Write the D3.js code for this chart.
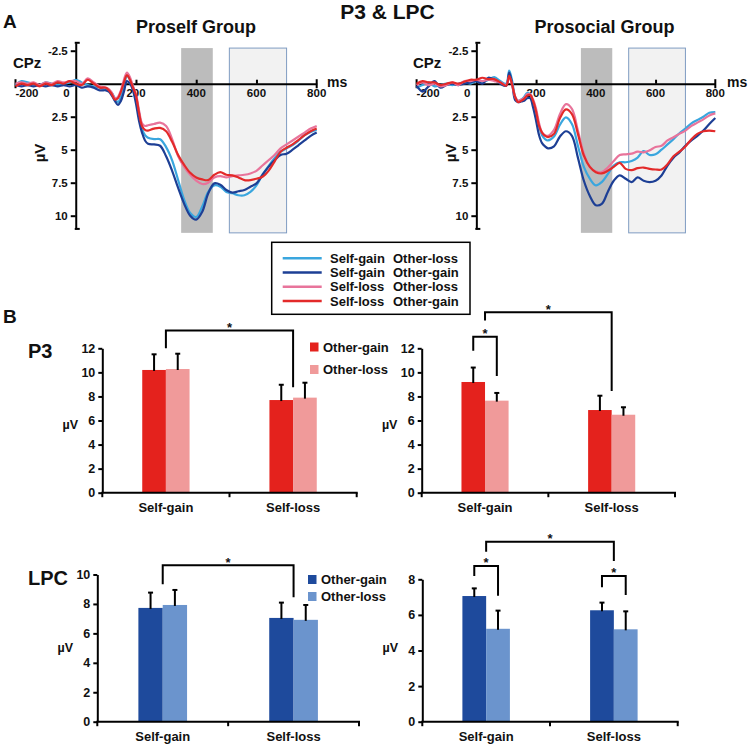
<!DOCTYPE html>
<html>
<head>
<meta charset="utf-8">
<script src="https://cdn.jsdelivr.net/npm/d3@7"></script>
<style>
  html, body { margin: 0; padding: 0; background: #fff; }
  svg text { font-family: "Liberation Sans", Arial, Helvetica, sans-serif; font-weight: bold; fill: #111; }
</style>
</head>
<body>
<svg id="chart" width="750" height="749"></svg>
<script>
// ================= DATA =================
// ERP waveforms (CPz), time in ms, amplitude in µV (axis inverted: positive down)
const erpTimes = [-200,-180,-160,-140,-120,-100,-80,-60,-40,-20,0,20,40,60,80,
  100,110,120,130,140,150,160,170,180,190,200,210,220,230,240,
  260,280,300,320,340,360,380,400,420,440,460,480,500,520,540,560,580,600,620,640,660,680,700,720,740,760,780,800];

const proselfSelfGainOtherLoss = [0.1,-0.2,-0.1,0,0.1,-0.1,0,0.1,0,-0.1,-0.3,-0.1,0.1,0.2,0.3,
  0.4,0.5,0.7,1.1,1.4,1.0,0.2,-0.6,-0.3,0.2,1.0,2.2,3.4,3.9,4.1,
  4.2,4.2,4.8,5.8,7.3,8.8,9.8,10.1,9.3,8.2,7.7,7.8,8.2,8.3,8.45,8.45,8.2,7.7,6.9,6.25,5.65,5.15,4.9,4.65,4.3,3.9,3.65,3.5];
const proselfSelfGainOtherGain = [0.1,0.2,0.1,0.2,0.1,0.2,0.1,0.2,0.1,0.2,0.1,0.3,0.2,0.3,0.5,
  0.5,0.6,0.9,1.3,1.6,1.3,0.6,-0.2,0.0,0.5,1.5,2.8,3.7,4.3,4.55,
  4.6,4.7,5.5,6.6,7.9,9.1,10.0,10.3,9.7,8.3,7.55,7.65,8.05,8.25,8.15,8.05,7.8,7.55,6.9,6.3,5.8,5.4,5.3,5.0,4.65,4.3,3.95,3.7];
const proselfSelfLossOtherLoss = [0.0,-0.1,0.0,-0.1,0.1,-0.1,0.0,-0.2,-0.1,-0.2,-0.2,0.0,-0.4,-0.1,0.2,
  0.3,0.4,0.7,1.1,1.0,0.5,-0.3,-0.85,-0.5,0.2,0.8,2.0,3.0,3.2,3.15,
  3.05,2.95,3.2,4.2,5.5,6.3,6.9,7.35,7.6,7.5,7.1,7.0,7.1,7.0,6.95,6.9,6.8,6.6,6.2,5.8,5.4,4.9,4.6,4.3,4.0,3.7,3.4,3.2];
const proselfSelfLossOtherGain = [0.2,0.0,0.1,0.0,0.2,0.0,0.1,-0.1,0.0,-0.2,0.0,0.1,-0.3,0.0,0.3,
  0.3,0.5,0.8,1.2,1.1,0.6,-0.1,-0.65,-0.3,0.3,0.9,2.2,3.2,3.5,3.55,
  3.4,3.35,3.6,4.4,5.4,6.15,6.75,7.1,7.25,7.3,6.9,6.7,6.9,6.95,7.1,7.3,7.3,7.2,7.05,6.6,5.9,5.15,4.85,4.6,4.25,3.9,3.6,3.4];

const prosocialSelfGainOtherLoss = [0.3,0.1,-0.1,0.2,0.1,0.0,0.1,0.0,-0.1,0.0,-0.2,-0.1,-0.3,-0.5,-0.2,
  0.0,-1.0,-0.2,1.0,1.3,1.2,1.0,0.7,0.8,1.4,2.2,3.2,3.9,4.2,4.3,
  4.0,3.1,2.55,3.05,4.7,6.3,7.2,7.7,7.45,6.85,6.2,5.95,5.95,5.85,5.6,5.1,5.4,5.35,5.0,4.6,4.2,3.75,3.4,3.0,2.75,2.5,2.2,2.15];
const prosocialSelfGainOtherGain = [0.15,0.6,0.2,-0.2,0.3,0.1,0.0,0.1,0.0,-0.1,-0.2,0.0,-0.45,-0.3,0.0,
  0.15,-0.85,0.0,1.25,1.4,1.35,1.3,1.1,1.1,1.8,2.8,3.9,4.5,4.75,4.9,
  4.75,4.0,3.6,3.95,5.6,7.35,8.5,9.2,9.1,8.2,7.35,6.95,7.2,7.45,7.1,7.35,7.45,7.35,6.95,6.2,5.6,5.2,4.7,4.3,3.95,3.55,3.05,2.6];
const prosocialSelfLossOtherLoss = [0.1,-0.1,0.1,0.0,0.2,0.1,-0.1,0.1,-0.2,-0.2,-0.3,-0.2,-0.3,-0.2,-0.1,
  0.1,-0.5,0.1,1.0,1.3,1.2,1.1,0.8,0.8,1.2,1.9,3.0,3.7,3.9,3.95,
  3.5,2.3,1.55,1.9,3.55,5.3,6.3,6.65,6.7,6.35,5.85,5.4,5.35,5.3,5.15,5.2,5.05,4.8,4.7,4.3,4.05,3.8,3.55,3.2,2.95,2.7,2.4,2.25];
const prosocialSelfLossOtherGain = [0.0,-0.2,-0.1,-0.1,0.1,0.0,-0.1,0.0,-0.15,-0.3,-0.3,-0.45,-0.35,-0.35,-0.1,
  0.15,-0.6,0.1,1.0,1.4,1.3,1.15,0.9,0.85,1.3,2.1,3.2,3.7,3.95,4.05,
  3.8,2.6,1.95,2.3,3.8,5.45,6.3,6.7,6.8,6.6,6.3,6.0,6.45,6.55,6.4,6.35,6.45,6.5,6.5,6.1,5.5,5.15,4.75,4.2,3.8,3.6,3.55,3.6];

const erpLegendSelf  = ["Self-gain", "Self-gain", "Self-loss", "Self-loss"];
const erpLegendOther = ["Other-loss", "Other-gain", "Other-loss", "Other-gain"];
const erpYTicks = [-2.5, 2.5, 5, 7.5, 10];
const erpYExtent = [-3.1, 11];
const erpXInnerTicks = [200, 400, 600];
const erpXLabels = [-200, 0, 200, 400, 600, 800];
const p3Window = [350, 455];
const lpcWindow = [510, 700];
const windowSpan = [-2.7, 11.3];

// Bar charts (mean µV and SE)
const barGroups = ["Self-gain", "Self-loss"];
const barSeries = ["Other-gain", "Other-loss"];

const p3ProselfOtherGain = [10.2, 7.7];
const p3ProselfOtherLoss = [10.28, 7.9];
const p3ProselfOtherGainErr = [1.3, 1.27];
const p3ProselfOtherLossErr = [1.27, 1.24];

const p3ProsocialOtherGain = [9.2, 6.87];
const p3ProsocialOtherLoss = [7.65, 6.48];
const p3ProsocialOtherGainErr = [1.2, 1.19];
const p3ProsocialOtherLossErr = [0.64, 0.62];

const lpcProselfOtherGain = [7.73, 7.05];
const lpcProselfOtherLoss = [7.93, 6.92];
const lpcProselfOtherGainErr = [1.04, 1.04];
const lpcProselfOtherLossErr = [1.02, 1.01];

const lpcProsocialOtherGain = [7.06, 6.26];
const lpcProsocialOtherLoss = [5.22, 5.19];
const lpcProsocialOtherGainErr = [0.43, 0.43];
const lpcProsocialOtherLossErr = [1.02, 1.01];

// significance brackets: from/to = [groupIndex, seriesIndex (-1 = between bars)], heights in µV
const p3ProselfBrackets = [{from: [0, -1], to: [1, -1], top: 13.47, legs: [12.0, 8.76]}];
const p3ProsocialBrackets = [
  {from: [0, 0], to: [0, 1], top: 12.97, legs: [11.8, 9.7]},
  {from: [0, -1], to: [1, -1], top: 15.0, legs: [14.3, 8.45]}
];
const lpcProselfBrackets = [{from: [0, -1], to: [1, -1], top: 10.63, legs: [9.33, 8.45]}];
const lpcProsocialBrackets = [
  {from: [0, 0], to: [0, 1], top: 8.75, legs: [8.19, 7.08]},
  {from: [1, 0], to: [1, 1], top: 8.19, legs: [7.55, 7.12]},
  {from: [0, -1], to: [1, -1], top: 10.11, legs: [9.55, 9.03]}
];

// ================= STYLE =================
const FONT = '"Liberation Sans", Arial, Helvetica, sans-serif';
const erpColors = ["#3aa6de", "#1d3f95", "#e8749b", "#e32a2a"];
const p3Colors = ["#e4221d", "#f09a9a"];
const lpcColors = ["#1e4a9c", "#6b94cd"];

const svg = d3.select("#chart");

function txt(g, x, y, s, size, anchor) {
  return g.append("text").attr("x", x).attr("y", y).attr("font-size", size)
    .attr("text-anchor", anchor || "start").text(s);
}
function styleAxis(a, fs) {
  a.attr("font-family", FONT).attr("font-weight", "bold");
  a.select(".domain").attr("stroke", "#000").attr("stroke-width", 2);
  a.selectAll(".tick line").attr("stroke", "#000").attr("stroke-width", 2);
  a.selectAll(".tick text").attr("font-size", fs).attr("fill", "#111");
}

// ================= ERP PANELS =================
function drawERP(p) {
  const x = d3.scaleLinear().domain([-200, 800]).range([p.left, p.right]);
  const y = d3.scaleLinear().domain(erpYExtent).range([42.8, 228.9]);
  const g = svg.append("g");

  g.append("rect").attr("x", x(p3Window[0])).attr("y", y(windowSpan[0]))
    .attr("width", x(p3Window[1]) - x(p3Window[0])).attr("height", y(windowSpan[1]) - y(windowSpan[0]))
    .attr("fill", "#bcbcbc");
  g.append("rect").attr("x", x(lpcWindow[0])).attr("y", y(windowSpan[0]))
    .attr("width", x(lpcWindow[1]) - x(lpcWindow[0])).attr("height", y(windowSpan[1]) - y(windowSpan[0]))
    .attr("fill", "#f2f2f2").attr("stroke", "#7f9cc2").attr("stroke-width", 1);

  // x axis
  const xa = g.append("g").attr("transform", `translate(0,${y(0)})`)
    .call(d3.axisTop(x).tickValues(erpXInnerTicks).tickSize(4).tickSizeOuter(0).tickFormat(""));
  styleAxis(xa, 11);
  [-200, 800].forEach(t => g.append("line").attr("x1", x(t)).attr("x2", x(t))
    .attr("y1", y(0) - 4.5).attr("y2", y(0) + 4.5).attr("stroke", "#000").attr("stroke-width", 2));
  erpXLabels.forEach(t => {
    let ax = x(t), anchor = "middle";
    if (t === -200) { anchor = "start"; }
    if (t === 0) { ax = x(0) - 6; anchor = "end"; }
    txt(g, ax, y(0) + 13.5, String(t), 11.5, anchor);
  });
  txt(g, p.msX, y(0) + 3, "ms", 14, "start");

  // y axis
  const ya = g.append("g").attr("transform", `translate(${x(0)},0)`)
    .call(d3.axisLeft(y).tickValues(erpYTicks).tickSize(5).tickSizeOuter(0).tickPadding(3).tickFormat(d => String(d)));
  styleAxis(ya, 11.5);
  erpYExtent.forEach(v => g.append("line").attr("x1", x(0) - 1).attr("x2", x(0) + 4)
    .attr("y1", y(v)).attr("y2", y(v)).attr("stroke", "#000").attr("stroke-width", 2));

  // curves
  const line = d3.line().x((d, i) => x(erpTimes[i])).y(d => y(d)).curve(d3.curveCatmullRom.alpha(0.5));
  p.series.forEach((vals, k) => {
    g.append("path").attr("d", line(vals)).attr("fill", "none")
      .attr("stroke", erpColors[k]).attr("stroke-width", 2.2).attr("stroke-linejoin", "round");
  });

  // labels
  txt(g, p.titleX, 33, p.title, 18, "middle");
  txt(g, p.cpzX, 68, "CPz", 15, "start");
  g.append("text").attr("transform", `translate(${p.uvX},153) rotate(-90)`)
    .attr("text-anchor", "middle").attr("dy", "0.35em").attr("font-size", 15).text("µV");
}

drawERP({left: 15.5, right: 316.7, msX: 327, titleX: 196, title: "Proself Group", cpzX: 13, uvX: 40,
  series: [proselfSelfGainOtherLoss, proselfSelfGainOtherGain, proselfSelfLossOtherLoss, proselfSelfLossOtherGain]});
drawERP({left: 416.6, right: 715.3, msX: 727, titleX: 604.5, title: "Prosocial Group", cpzX: 413, uvX: 451,
  series: [prosocialSelfGainOtherLoss, prosocialSelfGainOtherGain, prosocialSelfLossOtherLoss, prosocialSelfLossOtherGain]});

// headings
txt(svg, 3, 28, "A", 19, "start");
txt(svg, 387.5, 18.5, "P3 & LPC", 21, "middle");
txt(svg, 3, 323, "B", 19, "start");
txt(svg, 28, 358.3, "P3", 20, "start");
txt(svg, 28, 585, "LPC", 20, "start");

// ERP legend
(function () {
  const g = svg.append("g");
  g.append("rect").attr("x", 271.7).attr("y", 242.3).attr("width", 198.3).attr("height", 72)
    .attr("fill", "#fff").attr("stroke", "#000").attr("stroke-width", 1.5);
  const rows = d3.scaleLinear().domain([0, 3]).range([258.3, 301]);
  erpLegendSelf.forEach((s, i) => {
    g.append("line").attr("x1", 282.7).attr("x2", 321.7).attr("y1", rows(i)).attr("y2", rows(i))
      .attr("stroke", erpColors[i]).attr("stroke-width", 2.5);
    txt(g, 330, rows(i) + 4.7, s, 13, "start");
    txt(g, 393, rows(i) + 4.7, erpLegendOther[i], 13, "start");
  });
})();

// ================= BAR PANELS =================
function drawBars(p) {
  const y = d3.scaleLinear().domain([0, p.max]).range([p.zero, p.top]);
  const x = d3.scaleBand().domain(barGroups).range([p.x0, p.x1]);
  const bw = x.bandwidth();
  const xs = d3.scaleBand().domain(barSeries).range([bw * 0.314, bw * 0.686]);
  const g = svg.append("g");

  barSeries.forEach((s, si) => {
    barGroups.forEach((grp, gi) => {
      const m = p.means[si][gi], e = p.errs[si][gi];
      const bx = x(grp) + xs(s);
      const cx = bx + xs.bandwidth() / 2;
      g.append("rect").attr("x", bx).attr("y", y(m)).attr("width", xs.bandwidth())
        .attr("height", y(0) - y(m)).attr("fill", p.colors[si]);
      g.append("line").attr("x1", cx).attr("x2", cx).attr("y1", y(m) + 1).attr("y2", y(m + e))
        .attr("stroke", "#000").attr("stroke-width", 2);
      g.append("line").attr("x1", cx - 2.5).attr("x2", cx + 2.5).attr("y1", y(m + e)).attr("y2", y(m + e))
        .attr("stroke", "#000").attr("stroke-width", 2);
    });
  });

  // y axis
  const ya = g.append("g").attr("transform", `translate(${p.x0},0)`)
    .call(d3.axisLeft(y).tickValues(d3.range(0, p.max + 1, 2)).tickSize(4).tickSizeOuter(0).tickPadding(3));
  styleAxis(ya, 12.5);
  // x axis
  g.append("line").attr("x1", p.x0 - 1).attr("x2", p.x1 + 1).attr("y1", y(0)).attr("y2", y(0))
    .attr("stroke", "#000").attr("stroke-width", 2);
  d3.range(barGroups.length + 1).forEach(i => {
    const tx = p.x0 + i * bw;
    g.append("line").attr("x1", tx).attr("x2", tx).attr("y1", y(0)).attr("y2", y(0) + 4.5)
      .attr("stroke", "#000").attr("stroke-width", 2);
  });
  barGroups.forEach(grp => txt(g, x(grp) + bw / 2, y(0) + 19.5, grp, 13, "middle"));
  txt(g, p.x0 - 32, p.uvY, "µV", 12.5, "middle");

  // brackets
  const bxPos = pos => {
    const base = x(barGroups[pos[0]]);
    return pos[1] < 0 ? base + bw / 2 : base + xs(barSeries[pos[1]]) + xs.bandwidth() / 2;
  };
  p.brackets.forEach(b => {
    const x1 = bxPos(b.from), x2 = bxPos(b.to);
    g.append("path").attr("d", `M${x1},${y(b.legs[0])}V${y(b.top)}H${x2}V${y(b.legs[1])}`)
      .attr("fill", "none").attr("stroke", "#000").attr("stroke-width", 2);
    txt(g, (x1 + x2) / 2, y(b.top) + 1.5, "*", 13, "middle");
  });

  // legend
  if (p.legend) {
    barSeries.forEach((s, si) => {
      const ly = p.legend.y + si * p.legend.dy;
      g.append("rect").attr("x", p.legend.x).attr("y", ly - 9).attr("width", 8.5).attr("height", 9)
        .attr("fill", p.colors[si]);
      txt(g, p.legend.x + 13, ly, s, 13, "start");
    });
  }
}

drawBars({x0: 102.3, x1: 356.7, zero: 492.7, top: 348.3, max: 12, colors: p3Colors, uvY: 429,
  means: [p3ProselfOtherGain, p3ProselfOtherLoss], errs: [p3ProselfOtherGainErr, p3ProselfOtherLossErr],
  brackets: p3ProselfBrackets, legend: {x: 310, y: 351.5, dy: 22.5}});
drawBars({x0: 421.7, x1: 675, zero: 492.7, top: 348.3, max: 12, colors: p3Colors, uvY: 429,
  means: [p3ProsocialOtherGain, p3ProsocialOtherLoss], errs: [p3ProsocialOtherGainErr, p3ProsocialOtherLossErr],
  brackets: p3ProsocialBrackets});
drawBars({x0: 97.3, x1: 359, zero: 721.7, top: 574.5, max: 10, colors: lpcColors, uvY: 651.5,
  means: [lpcProselfOtherGain, lpcProselfOtherLoss], errs: [lpcProselfOtherGainErr, lpcProselfOtherLossErr],
  brackets: lpcProselfBrackets, legend: {x: 308, y: 584, dy: 17}});
drawBars({x0: 422.3, x1: 677.7, zero: 721.7, top: 579.3, max: 8, colors: lpcColors, uvY: 651.5,
  means: [lpcProsocialOtherGain, lpcProsocialOtherLoss], errs: [lpcProsocialOtherGainErr, lpcProsocialOtherLossErr],
  brackets: lpcProsocialBrackets});
</script>
</body>
</html>
